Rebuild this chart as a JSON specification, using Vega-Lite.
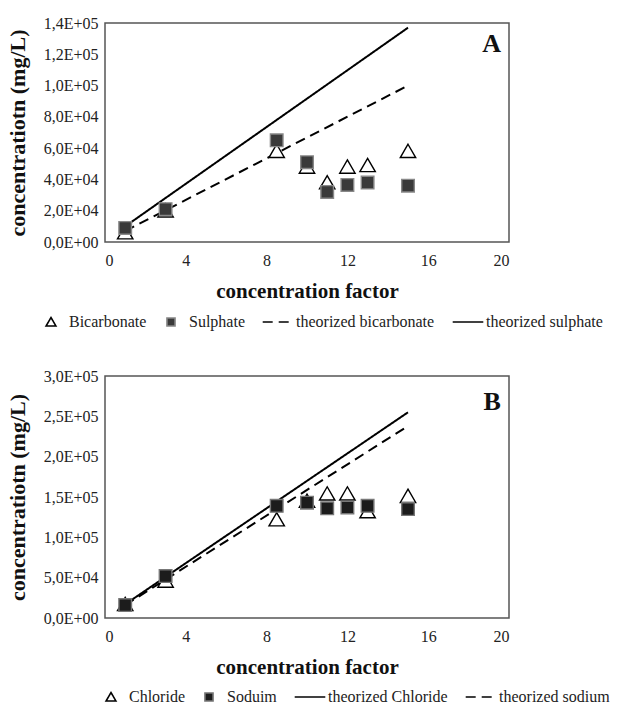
{
  "$schema": "https://vega.github.io/schema/vega-lite/v6.json",
  "padding": {"left": 5, "top": 14, "right": 8, "bottom": 0},
  "background": "white",
  "config": {
    "font": "Liberation Serif",
    "view": {"stroke": "#555", "strokeWidth": 1.5},
    "axis": {"grid": false, "ticks": false, "domain": false, "labelFont": "Liberation Serif", "labelFontSize": 16, "labelColor": "#222", "titleFont": "Liberation Serif", "titleFontWeight": "bold", "titleColor": "#111"},
    "axisX": {"labelPadding": 10, "titlePadding": 12, "titleFontSize": 21},
    "axisY": {"labelPadding": 7, "titlePadding": 14, "titleFontSize": 22},
    "legend": {"direction": "horizontal", "labelFont": "Liberation Serif", "labelFontSize": 16, "labelColor": "#222", "columns": 4, "columnPadding": 14, "labelOffset": 8, "symbolSize": 324, "symbolStrokeWidth": 1.6},
    "concat": {"spacing": 36}
  },
  "resolve": {
    "scale": {"shape": "independent", "fill": "independent", "stroke": "independent", "strokeDash": "independent", "x": "independent", "y": "independent"},
    "legend": {"shape": "independent", "fill": "independent", "stroke": "independent", "strokeDash": "independent"}
  },
  "vconcat": [
    {
      "width": 404,
      "height": 219,
      "data": {"values": [
        {"series": "Bicarbonate", "cf": 1, "conc": 6000},
        {"series": "Bicarbonate", "cf": 3, "conc": 20000},
        {"series": "Bicarbonate", "cf": 8.5, "conc": 58000},
        {"series": "Bicarbonate", "cf": 10, "conc": 48000},
        {"series": "Bicarbonate", "cf": 11, "conc": 38000},
        {"series": "Bicarbonate", "cf": 12, "conc": 48000},
        {"series": "Bicarbonate", "cf": 13, "conc": 49000},
        {"series": "Bicarbonate", "cf": 15, "conc": 58000},
        {"series": "Sulphate", "cf": 1, "conc": 9000},
        {"series": "Sulphate", "cf": 3, "conc": 21000},
        {"series": "Sulphate", "cf": 8.5, "conc": 65000},
        {"series": "Sulphate", "cf": 10, "conc": 51000},
        {"series": "Sulphate", "cf": 11, "conc": 32000},
        {"series": "Sulphate", "cf": 12, "conc": 36500},
        {"series": "Sulphate", "cf": 13, "conc": 38000},
        {"series": "Sulphate", "cf": 15, "conc": 36000},
        {"series": "theorized bicarbonate", "cf": 1, "conc": 7000},
        {"series": "theorized bicarbonate", "cf": 15, "conc": 100000},
        {"series": "theorized sulphate", "cf": 1, "conc": 10000},
        {"series": "theorized sulphate", "cf": 15, "conc": 137000}
      ]},
      "encoding": {
        "x": {"field": "cf", "type": "quantitative", "scale": {"domain": [0, 20], "nice": false}, "axis": {"values": [0, 4, 8, 12, 16, 20], "title": "concentration factor"}},
        "y": {"field": "conc", "type": "quantitative", "scale": {"domain": [0, 140000], "nice": false}, "axis": {"values": [0, 20000, 40000, 60000, 80000, 100000, 120000, 140000], "title": "concentratiotn (mg/L)", "labelExpr": "datum.value == 0 ? '0,0E+00' : replace(format(datum.value / pow(10, floor(log(datum.value) / LN10 + 1e-9)), '.1f'), '.', ',') + 'E+0' + floor(log(datum.value) / LN10 + 1e-9)"}}
      },
      "layer": [
        {
          "transform": [{"filter": "indexof(datum.series, 'theorized') >= 0"}],
          "mark": {"type": "line", "color": "black", "strokeWidth": 2},
          "encoding": {
            "detail": {"field": "series"},
            "strokeDash": {"field": "series", "type": "nominal", "scale": {"domain": ["Bicarbonate", "Sulphate", "theorized bicarbonate", "theorized sulphate"], "range": [[1, 0], [1, 0], [10, 6], [1, 0]]}, "legend": {"title": null, "orient": "none", "legendX": -64, "legendY": 289}}
          }
        },
        {
          "transform": [{"filter": "indexof(datum.series, 'theorized') < 0"}],
          "mark": {"type": "point", "size": 784, "strokeWidth": 1.4, "opacity": 1},
          "encoding": {
            "shape": {"field": "series", "type": "nominal", "scale": {"domain": ["Bicarbonate", "Sulphate", "theorized bicarbonate", "theorized sulphate"], "range": ["M0,-0.5L0.55,0.45L-0.55,0.45Z", "M-0.45,-0.45L0.45,-0.45L0.45,0.45L-0.45,0.45Z", "M-1.7,0L1.7,0", "M-1.7,0L1.7,0"]}, "legend": {"title": null, "orient": "none", "legendX": -64, "legendY": 289}},
            "fill": {"field": "series", "type": "nominal", "scale": {"domain": ["Bicarbonate", "Sulphate", "theorized bicarbonate", "theorized sulphate"], "range": ["white", "#3a3a3a", "transparent", "transparent"]}, "legend": {"title": null, "orient": "none", "legendX": -64, "legendY": 289}},
            "stroke": {"field": "series", "type": "nominal", "scale": {"domain": ["Bicarbonate", "Sulphate", "theorized bicarbonate", "theorized sulphate"], "range": ["black", "#888888", "black", "black"]}, "legend": {"title": null, "orient": "none", "legendX": -64, "legendY": 289}}
          }
        },
        {
          "data": {"values": [{"label": "A", "cf": 19.6, "conc": 126500}]},
          "mark": {"type": "text", "align": "right", "baseline": "middle", "fontSize": 26, "fontWeight": "bold", "font": "Liberation Serif", "color": "#111"},
          "encoding": {"text": {"field": "label"}}
        }
      ]
    },
    {
      "width": 404,
      "height": 242,
      "data": {"values": [
        {"series": "Chloride", "cf": 1, "conc": 17000},
        {"series": "Chloride", "cf": 3, "conc": 46000},
        {"series": "Chloride", "cf": 8.5, "conc": 122000},
        {"series": "Chloride", "cf": 10, "conc": 145000},
        {"series": "Chloride", "cf": 11, "conc": 154000},
        {"series": "Chloride", "cf": 12, "conc": 154000},
        {"series": "Chloride", "cf": 13, "conc": 132000},
        {"series": "Chloride", "cf": 15, "conc": 151000},
        {"series": "Soduim", "cf": 1, "conc": 16000},
        {"series": "Soduim", "cf": 3, "conc": 52000},
        {"series": "Soduim", "cf": 8.5, "conc": 139000},
        {"series": "Soduim", "cf": 10, "conc": 143000},
        {"series": "Soduim", "cf": 11, "conc": 136000},
        {"series": "Soduim", "cf": 12, "conc": 137000},
        {"series": "Soduim", "cf": 13, "conc": 139000},
        {"series": "Soduim", "cf": 15, "conc": 135000},
        {"series": "theorized Chloride", "cf": 1, "conc": 17000},
        {"series": "theorized Chloride", "cf": 15, "conc": 255000},
        {"series": "theorized sodium", "cf": 1, "conc": 16000},
        {"series": "theorized sodium", "cf": 15, "conc": 238000}
      ]},
      "encoding": {
        "x": {"field": "cf", "type": "quantitative", "scale": {"domain": [0, 20], "nice": false}, "axis": {"values": [0, 4, 8, 12, 16, 20], "title": "concentration factor"}},
        "y": {"field": "conc", "type": "quantitative", "scale": {"domain": [0, 300000], "nice": false}, "axis": {"values": [0, 50000, 100000, 150000, 200000, 250000, 300000], "title": "concentratiotn (mg/L)", "labelExpr": "datum.value == 0 ? '0,0E+00' : replace(format(datum.value / pow(10, floor(log(datum.value) / LN10 + 1e-9)), '.1f'), '.', ',') + 'E+0' + floor(log(datum.value) / LN10 + 1e-9)"}}
      },
      "layer": [
        {
          "transform": [{"filter": "indexof(datum.series, 'theorized') >= 0"}],
          "mark": {"type": "line", "color": "black", "strokeWidth": 2},
          "encoding": {
            "detail": {"field": "series"},
            "strokeDash": {"field": "series", "type": "nominal", "scale": {"domain": ["Chloride", "Soduim", "theorized Chloride", "theorized sodium"], "range": [[1, 0], [1, 0], [1, 0], [10, 6]]}, "legend": {"title": null, "orient": "none", "legendX": -4, "legendY": 311}}
          }
        },
        {
          "transform": [{"filter": "indexof(datum.series, 'theorized') < 0"}],
          "mark": {"type": "point", "size": 784, "strokeWidth": 1.4, "opacity": 1},
          "encoding": {
            "shape": {"field": "series", "type": "nominal", "scale": {"domain": ["Chloride", "Soduim", "theorized Chloride", "theorized sodium"], "range": ["M0,-0.5L0.55,0.45L-0.55,0.45Z", "M-0.45,-0.45L0.45,-0.45L0.45,0.45L-0.45,0.45Z", "M-1.7,0L1.7,0", "M-1.7,0L1.7,0"]}, "legend": {"title": null, "orient": "none", "legendX": -4, "legendY": 311}},
            "fill": {"field": "series", "type": "nominal", "scale": {"domain": ["Chloride", "Soduim", "theorized Chloride", "theorized sodium"], "range": ["white", "#1c1c1c", "transparent", "transparent"]}, "legend": {"title": null, "orient": "none", "legendX": -4, "legendY": 311}},
            "stroke": {"field": "series", "type": "nominal", "scale": {"domain": ["Chloride", "Soduim", "theorized Chloride", "theorized sodium"], "range": ["black", "#777777", "black", "black"]}, "legend": {"title": null, "orient": "none", "legendX": -4, "legendY": 311}}
          }
        },
        {
          "data": {"values": [{"label": "B", "cf": 19.6, "conc": 268000}]},
          "mark": {"type": "text", "align": "right", "baseline": "middle", "fontSize": 26, "fontWeight": "bold", "font": "Liberation Serif", "color": "#111"},
          "encoding": {"text": {"field": "label"}}
        }
      ]
    }
  ]
}
